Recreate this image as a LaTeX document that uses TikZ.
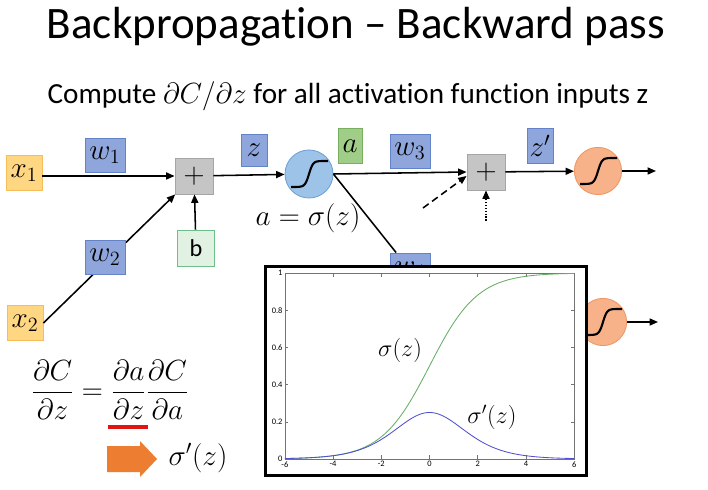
\documentclass[tikz,border=0pt]{standalone}
\usepackage{amsmath}
\usepackage{fontspec}
\setmainfont{Carlito}[Ligatures={TeX,NoCommon}]
\definecolor{bpyellow}{RGB}{255,215,130}
\definecolor{bpyellowdk}{RGB}{245,190,90}
\definecolor{bpblue}{RGB}{143,166,220}
\definecolor{bpbluedk}{RGB}{100,130,200}
\definecolor{bpgreen}{RGB}{160,205,135}
\definecolor{bpgreendk}{RGB}{120,175,95}
\definecolor{bplight}{RGB}{226,242,226}
\definecolor{bplightdk}{RGB}{110,190,140}
\definecolor{bpgray}{RGB}{197,197,197}
\definecolor{bpgraydk}{RGB}{165,165,165}
\definecolor{bpcircle}{RGB}{157,195,232}
\definecolor{bpcircledk}{RGB}{110,160,215}
\definecolor{bppeach}{RGB}{247,178,138}
\definecolor{bppeachdk}{RGB}{238,150,100}
\definecolor{bporange}{RGB}{237,125,49}
\definecolor{bpred}{RGB}{225,20,20}
\definecolor{bpcurvegreen}{RGB}{100,175,100}
\definecolor{bpcurveblue}{RGB}{80,80,210}
\usetikzlibrary{arrows.meta,positioning,calc}

\begin{document}
\begin{tikzpicture}[x=0.025cm, y=-0.025cm,
  inbox/.style={draw=bpyellowdk, fill=bpyellow, line width=0.6pt, minimum width=0.9cm, minimum height=0.875cm, inner sep=0pt, font=\huge},
  wbox/.style={draw=bpbluedk, fill=bpblue, line width=0.6pt, minimum width=1cm, minimum height=0.85cm, inner sep=0pt, font=\huge},
  zbox/.style={wbox, minimum width=0.65cm, minimum height=0.8cm},
  abox/.style={draw=bpgreendk, fill=bpgreen, line width=0.6pt, minimum width=0.6cm, minimum height=0.875cm, inner sep=0pt, font=\huge},
  sumbox/.style={draw=bpgraydk, fill=bpgray, line width=0.6pt, minimum width=0.95cm, minimum height=0.9cm, inner sep=0pt, font=\huge},
  biasbox/.style={draw=bplightdk, fill=bplight, line width=0.6pt, minimum width=0.92cm, minimum height=0.9cm, inner sep=0pt, font=\LARGE},
  actblue/.style={circle, draw=bpcircledk, fill=bpcircle, line width=0.6pt, minimum size=1.2cm, inner sep=0pt},
  actpeach/.style={circle, draw=bppeachdk, fill=bppeach, line width=0.6pt, minimum size=1.18cm, inner sep=0pt},
  conn/.style={-{Triangle[length=6pt,width=5pt]}, line width=1.1pt},
  sigline/.style={line width=1.5pt},
  ticklbl/.style={font=\fontsize{6}{7}\selectfont, inner sep=1.5pt}]
  \fill[white] (0,0) rectangle (708,490);

  \node[font=\fontsize{32}{38}\selectfont] (title) at (356,27) {Backpropagation -- Backward pass};
  \node[font=\fontsize{20.74}{25}\selectfont] (sub) at (348,96) {Compute $\partial C/\partial z$ for all activation function inputs z};

  \node[inbox] (x1) at (24,173) {$x_1$};
  \node[inbox] (x2) at (25,323) {$x_2$};
  \node[sumbox] (plus1) at (194,176) {$+$};
  \node[biasbox] (b) at (196,248) {b};
  \node[actblue] (sig1) at (309,174) {};
  \node[sumbox] (plus2) at (486,172) {$+$};
  \node[actpeach] (sig2) at (598,171) {};
  \node[wbox] (w4) at (410,270) {$w_4$};
  \node[actpeach] (sig3) at (603,322) {};
  \coordinate (out1) at (656,171);
  \coordinate (out2) at (658,322);
  \coordinate (dash1) at (423,208);
  \coordinate (dot1) at (486,221);

  \draw[conn] (x1.east |- plus1) -- (plus1);
  \draw[conn] (x2.east) -- (plus1);
  \draw[conn] (b) -- (plus1);
  \draw[conn] (plus1) -- (sig1);
  \draw[conn] (sig1.east) -- (plus2.west);
  \draw[line width=1.1pt] (sig1.east) -- (w4);
  \draw[conn] (plus2) -- (sig2);
  \draw[conn] (sig2) -- (out1);
  \draw[conn] (sig3) -- (out2);
  \draw[conn, dash pattern=on 5pt off 3pt] (dash1) -- ($(plus2.west)+(0,4)$);
  \draw[conn, densely dotted] (dot1) -- (plus2);
  \foreach \s in {sig1,sig2,sig3}
    \draw[sigline, shift={(\s)}] plot[domain=-18:19, samples=40, smooth] (\x, {-13*tanh(\x/4)});

  \node[wbox] (w1) at (105,155) {$w_1$};
  \node[wbox] (w2) at (105,257) {$w_2$};
  \node[zbox] (z) at (254,150) {$z$};
  \node[abox] (a) at (350,146) {$a$};
  \node[wbox] (w3) at (410,151) {$w_3$};
  \node[zbox, minimum height=0.875cm] (zp) at (540,146) {$z'$};
  \node[font=\huge] (aeq) at (308,218) {$a=\sigma(z)$};

  \node[draw, fill=white, line width=2.2pt, minimum width=8.025cm, minimum height=5.225cm] (frame) at (426,371) {};
  \begin{scope}[shift={(429.5,459)}, x=0.6025cm, y=4.65cm]
    \draw[black!55, line width=0.4pt] (-6,0) rectangle (6,1);
    \foreach \t in {-6,-4,...,6} {
      \draw[black!55, line width=0.4pt] (\t,0) -- ++(0,0.02) (\t,1) -- ++(0,-0.02);
      \node[ticklbl, below] at (\t,0) {\t};
    }
    \foreach \t in {0,0.2,0.4,0.6,0.8,1} {
      \draw[black!55, line width=0.4pt] (-6,\t) -- ++(0.12,0) (6,\t) -- ++(-0.12,0);
      \node[ticklbl, left] at (-6,\t) {\t};
    }
    \draw[bpcurvegreen, line width=0.6pt] plot[domain=-6:6, samples=120, smooth] (\x, {1/(1+exp(-\x))});
    \draw[bpcurveblue, line width=0.6pt] plot[domain=-6:6, samples=120, smooth] (\x, {1/(2+exp(\x)+exp(-\x))});
    \node[font=\LARGE] (sig) at (-1.22,0.586) {$\sigma(z)$};
    \node[font=\LARGE] (dsig) at (2.59,0.226) {$\sigma'(z)$};
  \end{scope}

  \node[font=\huge] (chain) at (110,390) {$\dfrac{\partial C}{\partial z}=\dfrac{\partial a}{\partial z}\dfrac{\partial C}{\partial a}$};
  \draw[bpred, line width=2.2pt] (108,427) -- (148,427);
  \fill[bporange] (107,446) -- (140,446) -- (140,441) -- (157,459) -- (140,477) -- (140,472) -- (107,472) -- cycle;
  \node[font=\huge] (sigp) at (198,458) {$\sigma'(z)$};
\end{tikzpicture}
\end{document}
